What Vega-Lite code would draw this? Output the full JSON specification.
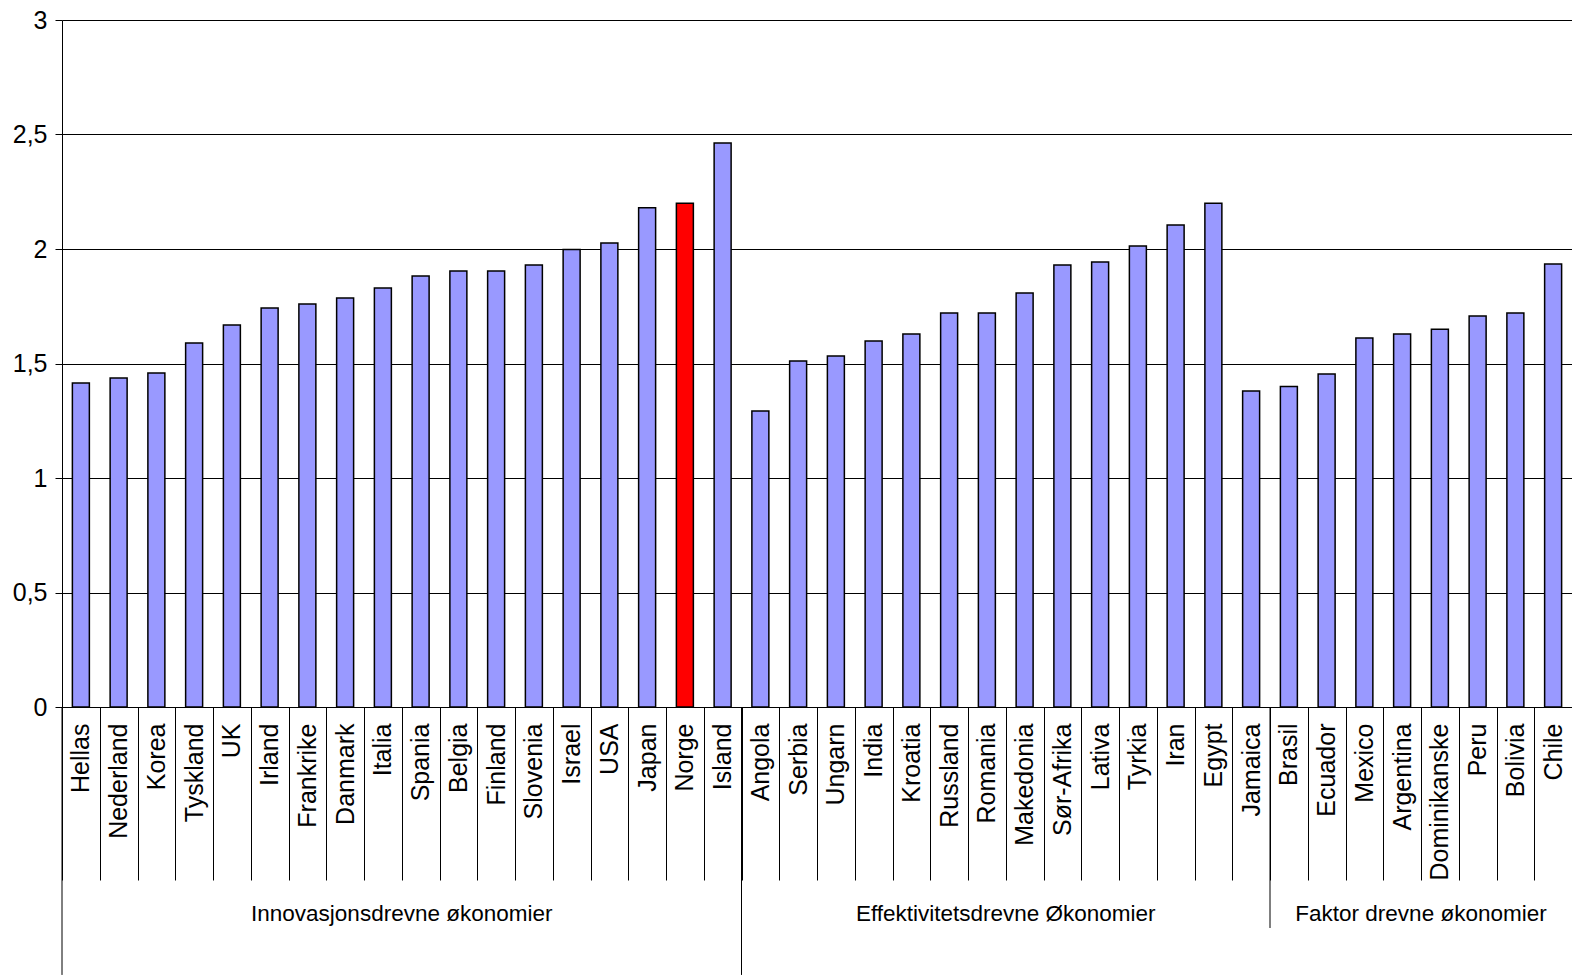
{
  "$schema": "https://vega.github.io/schema/vega-lite/v6.json",
  "width": 1510,
  "height": 687,
  "autosize": "none",
  "padding": {"left": 62, "top": 20, "right": 0, "bottom": 270},
  "background": "white",
  "config": {"view": {"stroke": null}, "font": "Liberation Sans"},
  "datasets": {
    "bars": [
      {"country": "Hellas", "value": 1.415},
      {"country": "Nederland", "value": 1.437},
      {"country": "Korea", "value": 1.459},
      {"country": "Tyskland", "value": 1.59},
      {"country": "UK", "value": 1.668},
      {"country": "Irland", "value": 1.742},
      {"country": "Frankrike", "value": 1.76},
      {"country": "Danmark", "value": 1.786},
      {"country": "Italia", "value": 1.83},
      {"country": "Spania", "value": 1.882},
      {"country": "Belgia", "value": 1.904},
      {"country": "Finland", "value": 1.904},
      {"country": "Slovenia", "value": 1.93},
      {"country": "Israel", "value": 1.998},
      {"country": "USA", "value": 2.026},
      {"country": "Japan", "value": 2.18},
      {"country": "Norge", "value": 2.2},
      {"country": "Island", "value": 2.463},
      {"country": "Angola", "value": 1.293},
      {"country": "Serbia", "value": 1.511},
      {"country": "Ungarn", "value": 1.533},
      {"country": "India", "value": 1.598},
      {"country": "Kroatia", "value": 1.629},
      {"country": "Russland", "value": 1.72},
      {"country": "Romania", "value": 1.72},
      {"country": "Makedonia", "value": 1.808},
      {"country": "Sør-Afrika", "value": 1.93},
      {"country": "Lativa", "value": 1.943},
      {"country": "Tyrkia", "value": 2.013},
      {"country": "Iran", "value": 2.105},
      {"country": "Egypt", "value": 2.2},
      {"country": "Jamaica", "value": 1.38},
      {"country": "Brasil", "value": 1.4},
      {"country": "Ecuador", "value": 1.454},
      {"country": "Mexico", "value": 1.611},
      {"country": "Argentina", "value": 1.629},
      {"country": "Dominikanske", "value": 1.65},
      {"country": "Peru", "value": 1.707},
      {"country": "Bolivia", "value": 1.72},
      {"country": "Chile", "value": 1.934}
    ],
    "groups": [
      {"group": "Innovasjonsdrevne økonomier", "anchor": "Italia"},
      {"group": "Effektivitetsdrevne Økonomier", "anchor": "Romania"},
      {"group": "Faktor drevne økonomier", "anchor": "Argentina"}
    ],
    "sepLong": [{"boundary": "Hellas"}, {"boundary": "Angola"}],
    "sepShort": [{"boundary": "Brasil"}]
  },
  "layer": [
    {
      "data": {"name": "bars"},
      "mark": {"type": "bar", "width": {"band": 0.45}, "stroke": "black", "strokeWidth": 1.5},
      "encoding": {
        "x": {
          "field": "country",
          "type": "nominal",
          "sort": null,
          "scale": {
            "domain": ["Hellas","Nederland","Korea","Tyskland","UK","Irland","Frankrike","Danmark","Italia","Spania","Belgia","Finland","Slovenia","Israel","USA","Japan","Norge","Island","Angola","Serbia","Ungarn","India","Kroatia","Russland","Romania","Makedonia","Sør-Afrika","Lativa","Tyrkia","Iran","Egypt","Jamaica","Brasil","Ecuador","Mexico","Argentina","Dominikanske","Peru","Bolivia","Chile"],
            "paddingInner": 0,
            "paddingOuter": 0
          },
          "axis": {
            "title": null,
            "labelAngle": -90,
            "labelAlign": "right",
            "labelBaseline": "middle",
            "labelFontSize": 25,
            "labelColor": "black",
            "labelFont": "Liberation Sans",
            "labelPadding": -157,
            "labelOverlap": false,
            "labelLimit": 0,
            "tickBand": "extent",
            "tickSize": 173,
            "tickColor": "black",
            "tickWidth": 1,
            "domainColor": "black",
            "domainWidth": 1
          }
        },
        "y": {
          "field": "value",
          "type": "quantitative",
          "scale": {"domain": [0, 3], "nice": false},
          "axis": {
            "title": null,
            "values": [0, 0.5, 1, 1.5, 2, 2.5, 3],
            "labelExpr": "replace(toString(datum.value), '.', ',')",
            "labelFontSize": 25,
            "labelColor": "black",
            "labelFont": "Liberation Sans",
            "labelPadding": 8,
            "tickSize": 7,
            "tickColor": "black",
            "domainColor": "black",
            "grid": true,
            "gridColor": "black",
            "gridWidth": 1
          }
        },
        "fill": {
          "condition": {"test": "datum.country === 'Norge'", "value": "#FF0000"},
          "value": "#9999FF"
        }
      }
    },
    {
      "data": {"name": "groups"},
      "mark": {"type": "text", "fontSize": 22.5, "font": "Liberation Sans", "color": "black", "align": "center", "baseline": "middle", "dy": 207},
      "encoding": {
        "x": {"field": "anchor", "type": "nominal", "bandPosition": 1},
        "y": {"datum": 0},
        "text": {"field": "group"}
      }
    },
    {
      "data": {"name": "sepLong"},
      "mark": {"type": "rule", "color": "black", "strokeWidth": 1},
      "encoding": {
        "x": {"field": "boundary", "type": "nominal", "bandPosition": 0},
        "y": {"datum": 0},
        "y2": {"datum": -1.17}
      }
    },
    {
      "data": {"name": "sepShort"},
      "mark": {"type": "rule", "color": "black", "strokeWidth": 1},
      "encoding": {
        "x": {"field": "boundary", "type": "nominal", "bandPosition": 0},
        "y": {"datum": 0},
        "y2": {"datum": -0.965}
      }
    }
  ]
}
